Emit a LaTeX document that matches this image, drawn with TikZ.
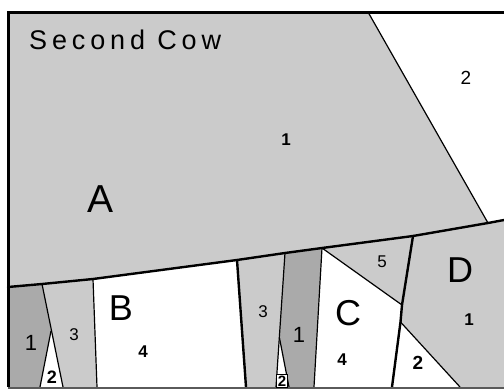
\documentclass[tikz,border=0pt]{standalone}
\usepackage{fontspec}
\setmainfont{Liberation Sans}
\definecolor{lightg}{RGB}{203,203,203}
\definecolor{darkg}{RGB}{170,170,170}
\definecolor{edgeg}{RGB}{90,90,90}
\begin{document}
\begin{tikzpicture}[x=1pt,y=-1pt,
  lg/.style={fill=lightg},
  dg/.style={fill=darkg},
  wh/.style={fill=white},
  thinline/.style={line width=1.2pt,line join=round},
  thickline/.style={line width=2.4pt,line join=round,line cap=round},
  framel/.style={line width=3pt},
  big/.style={font=\fontsize{36}{36}\selectfont, inner sep=0pt},
  num/.style={font=\fontsize{17}{17}\selectfont, inner sep=0pt},
  numb/.style={font=\bfseries\fontsize{17}{17}\selectfont, inner sep=0pt}]
\useasboundingbox (0,0) rectangle (504,389);
\fill[white] (0,0) rectangle (504,389);
% main line points
\coordinate (M0) at (8,287);
\coordinate (M1) at (42,284);
\coordinate (M2) at (93,279);
\coordinate (M3) at (237,260);
\coordinate (M4) at (285,253);
\coordinate (M5) at (322,248);
\coordinate (M6) at (413,236);
\coordinate (M7) at (488,223);
\coordinate (M8) at (504,220);
% other points
\coordinate (TL) at (8,12);
\coordinate (T) at (368,12);
\coordinate (TR) at (504,12);
\coordinate (BL) at (8,387);
\coordinate (BR) at (504,387);
\coordinate (ap1) at (51,331);
\coordinate (L2) at (40,387);
\coordinate (a1) at (63,387);
\coordinate (b1) at (97,387);
\coordinate (c1) at (246,387);
\coordinate (d1) at (276,387);
\coordinate (ap2) at (279.5,338);
\coordinate (t2r) at (289,387);
\coordinate (e1) at (314,387);
\coordinate (J5) at (402,305);
\coordinate (J2) at (400.5,322);
\coordinate (f1) at (392,387);
\coordinate (h1) at (460,387);
% fills
\fill[lg] (TL) -- (T) -- (M7) -- (M6) -- (M5) -- (M4) -- (M3) -- (M2) -- (M1) -- (M0) -- cycle;
\fill[wh] (T) -- (TR) -- (M8) -- (M7) -- cycle;
\fill[dg] (M0) -- (M1) -- (ap1) -- (L2) -- (BL) -- cycle;
\fill[wh] (ap1) -- (a1) -- (L2) -- cycle;
\fill[lg] (M1) -- (M2) -- (b1) -- (a1) -- cycle;
\fill[wh] (M2) -- (M3) -- (c1) -- (b1) -- cycle;
\fill[lg] (M3) -- (M4) -- (d1) -- (c1) -- cycle;
\fill[dg] (M4) -- (M5) -- (e1) -- (t2r) -- (ap2) -- cycle;
\fill[wh] (ap2) -- (t2r) -- (d1) -- cycle;
\fill[wh] (M5) -- (J5) -- (J2) -- (f1) -- (e1) -- cycle;
\fill[lg] (M5) -- (M6) -- (J5) -- cycle;
\fill[lg] (M6) -- (M7) -- (M8) -- (BR) -- (h1) -- (J2) -- (J5) -- cycle;
\fill[wh] (J2) -- (h1) -- (f1) -- cycle;
% thin lines
\draw[thinline] (T) -- (M7);
\draw[thinline] (M1) -- (a1);
\draw[thinline] (ap1) -- (L2);
\draw[thinline] (M2) -- (b1);
\draw[thinline] (M4) -- (d1);
\draw[thinline] (ap2) -- (t2r);
\draw[thinline] (M5) -- (e1);
\draw[thinline] (M5) -- (J5);
\draw[thinline] (J2) -- (h1);
% thick lines
\draw[thickline] (M0) -- (M1) -- (M2) -- (M3) -- (M4) -- (M5) -- (M6) -- (M7) -- (M8);
\draw[thickline] (M3) -- (c1);
\draw[thickline] (M6) -- (J5) -- (J2) -- (f1);
% frame
\draw[edgeg,line width=2pt] (8,388) -- (504,388);
\draw[framel] (TR) -- (TL) -- (BL);
% labels
\node[anchor=west, inner sep=0pt, font=\addfontfeatures{LetterSpace=18}\fontsize{27}{27}\selectfont] (title) at (29,40) {Second Cow};
\node[big, font=\fontsize{39}{39}\selectfont] (A) at (101,199) {A};
\node[numb] (A1) at (286,140) {1};
\node[numb, font=\fontsize{19}{19}\selectfont] (A2) at (466,78) {2};
\node[big] (B) at (121,308) {B};
\node[numb] (B4) at (143,352) {4};
\node[num, font=\fontsize{22}{22}\selectfont] (L1) at (31,343) {1};
\node[num] (L3) at (74,335) {3};
\node[numb, font=\bfseries\fontsize{18}{18}\selectfont] (L2t) at (52,377) {2};
\node[num] (C3) at (263,312) {3};
\node[num, font=\fontsize{22}{22}\selectfont] (C1) at (299,335) {1};
\node[draw, fill=white, line width=0.7pt, inner sep=1pt, font=\bfseries\fontsize{15}{15}\selectfont] (C2) at (282,381) {2};
\node[big] (C) at (348,313) {C};
\node[numb] (C4) at (342,360) {4};
\node[num] (C5) at (382,262) {5};
\node[big] (D) at (460,270) {D};
\node[numb] (D1) at (469,320) {1};
\node[numb, font=\bfseries\fontsize{19}{19}\selectfont] (D2) at (418,363) {2};
\end{tikzpicture}
\end{document}
